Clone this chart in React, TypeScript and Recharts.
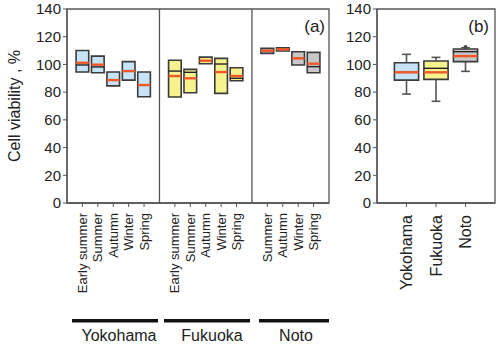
import React from 'react';
import {
  ComposedChart,
  ReferenceArea,
  ReferenceDot,
  ReferenceLine,
  Scatter,
  XAxis,
  YAxis,
} from 'recharts';

const FONT = '"Liberation Sans", Arial, sans-serif';
const AXIS = '#555';
const BOX_EDGE = '#3a3a3a';
const MEAN = '#f0582a';
const BLUE = '#c6e3f7';
const YELLOW = '#f6f28e';
const GRAY = '#c8c8c8';

const valueTicks = [0, 20, 40, 60, 80, 100, 120, 140];

// (a) seasonal sampling at each site
const seasons = ['Early summer', 'Summer', 'Autumn', 'Winter', 'Spring'];
const notoSeasons = ['Summer', 'Autumn', 'Winter', 'Spring'];

const yokohamaQ1 = [94.5, 94.0, 84.5, 88.7, 76.7];
const yokohamaQ3 = [110.0, 106.0, 94.5, 102.0, 94.5];
const yokohamaMedian = [99.6, 98.2, 88.7, 95.2, 85.1];
const yokohamaMean = [101.2, 99.8, 88.7, 95.2, 85.1];

const fukuokaQ1 = [76.5, 79.6, 100.5, 79.1, 88.2];
const fukuokaQ3 = [103.0, 96.4, 105.3, 104.4, 97.6];
const fukuokaMedian = [95.2, 94.3, 102.7, 100.3, 90.0];
const fukuokaMean = [91.6, 90.0, 102.7, 94.5, 91.6];

const notoQ1 = [108.0, 109.7, 99.6, 94.0];
const notoQ3 = [111.6, 112.0, 109.2, 108.7];
const notoMedian = [109.9, 110.9, 104.4, 98.4];
const notoMean = [109.9, 110.9, 104.4, 100.5];

// (b) pooled per site
const sites = ['Yokohama', 'Fukuoka', 'Noto'];
const siteLow = [78.6, 73.4, 95.0];
const siteQ1 = [88.7, 89.2, 102.0];
const siteMedian = [94.3, 97.2, 109.2];
const siteMean = [94.3, 94.3, 106.0];
const siteQ3 = [101.2, 102.5, 111.1];
const siteHigh = [107.3, 105.1, 112.0];
const notoOutliers = [112.6];

const siteFills = [BLUE, YELLOW, GRAY];
const HALF = 0.41;
const CAP = 0.15;

type Box = {
  x: number;
  label: string;
  q1: number;
  q3: number;
  median: number;
  mean: number;
  fill: string;
};

const groups = [
  { start: 1, labels: seasons, q1: yokohamaQ1, q3: yokohamaQ3, median: yokohamaMedian, mean: yokohamaMean, fill: BLUE },
  { start: 7, labels: seasons, q1: fukuokaQ1, q3: fukuokaQ3, median: fukuokaMedian, mean: fukuokaMean, fill: YELLOW },
  { start: 13, labels: notoSeasons, q1: notoQ1, q3: notoQ3, median: notoMedian, mean: notoMean, fill: GRAY },
];

const seasonBoxes: Box[] = groups.flatMap((g) =>
  g.labels.map((label, i) => ({
    x: g.start + i,
    label,
    q1: g.q1[i],
    q3: g.q3[i],
    median: g.median[i],
    mean: g.mean[i],
    fill: g.fill,
  })),
);

const siteBoxes = sites.map((label, i) => ({
  x: i + 1,
  label,
  low: siteLow[i],
  q1: siteQ1[i],
  median: siteMedian[i],
  mean: siteMean[i],
  q3: siteQ3[i],
  high: siteHigh[i],
  fill: siteFills[i],
}));

const seasonLabelAt: Record<number, string> = {};
seasonBoxes.forEach((b) => (seasonLabelAt[b.x] = b.label));
const siteLabelAt: Record<number, string> = {};
siteBoxes.forEach((b) => (siteLabelAt[b.x] = b.label));

const SeasonTick = ({ x, y, payload }: any) => (
  <text
    transform={`translate(${x},${y + 4}) rotate(-90)`}
    textAnchor="end"
    dy="0.35em"
    fontSize={13}
    fill="#222"
  >
    {seasonLabelAt[payload.value]}
  </text>
);

const SiteTick = ({ x, y, payload }: any) => (
  <text
    transform={`translate(${x},${y + 6}) rotate(-90)`}
    textAnchor="end"
    dy="0.35em"
    fontSize={16}
    fill="#222"
  >
    {siteLabelAt[payload.value]}
  </text>
);

const hidden = () => <g />;

function boxMarks(b: { x: number; q1: number; q3: number; median: number; mean: number; fill: string }, key: string) {
  return [
    <ReferenceArea
      key={`${key}-box`}
      x1={b.x - HALF}
      x2={b.x + HALF}
      y1={b.q1}
      y2={b.q3}
      fill={b.fill}
      fillOpacity={1}
      stroke={BOX_EDGE}
      strokeWidth={1.6}
    />,
    <ReferenceLine
      key={`${key}-median`}
      segment={[{ x: b.x - HALF, y: b.median }, { x: b.x + HALF, y: b.median }]}
      stroke="#222"
      strokeWidth={1.4}
    />,
    <ReferenceLine
      key={`${key}-mean`}
      segment={[{ x: b.x - HALF, y: b.mean }, { x: b.x + HALF, y: b.mean }]}
      stroke={MEAN}
      strokeWidth={2.4}
    />,
  ];
}

function whiskerMarks(b: (typeof siteBoxes)[number]) {
  const seg = (k: string, x1: number, y1: number, x2: number, y2: number) => (
    <ReferenceLine
      key={`${b.label}-${k}`}
      segment={[{ x: x1, y: y1 }, { x: x2, y: y2 }]}
      stroke="#555"
      strokeWidth={1.6}
    />
  );
  return [
    seg('up', b.x, b.q3, b.x, b.high),
    seg('down', b.x, b.q1, b.x, b.low),
    seg('capHi', b.x - CAP, b.high, b.x + CAP, b.high),
    seg('capLo', b.x - CAP, b.low, b.x + CAP, b.low),
  ];
}

export default function App() {
  return (
    <div
      style={{
        position: 'absolute',
        left: 0,
        top: 0,
        width: 500,
        height: 346,
        background: '#fff',
        fontFamily: FONT,
      }}
    >
      <div style={{ position: 'absolute', left: 0, top: 0 }}>
        <ComposedChart
          width={340}
          height={346}
          data={seasonBoxes}
          margin={{ top: 9, right: 11, bottom: 0, left: 0 }}
        >
          <XAxis
            type="number"
            dataKey="x"
            domain={[0, 17]}
            ticks={seasonBoxes.map((b) => b.x)}
            interval={0}
            height={143}
            tickSize={4}
            tick={<SeasonTick />}
            axisLine={{ stroke: AXIS, strokeWidth: 1.3 }}
            tickLine={{ stroke: AXIS }}
            allowDataOverflow
          />
          <YAxis
            type="number"
            domain={[0, 140]}
            ticks={valueTicks}
            width={67}
            tickSize={4}
            tick={{ fontSize: 15, fill: '#222' }}
            axisLine={{ stroke: AXIS, strokeWidth: 1.3 }}
            tickLine={{ stroke: AXIS }}
            allowDataOverflow
          />
          <ReferenceArea x1={0} x2={17} y1={0} y2={140} fill="none" stroke={AXIS} strokeWidth={1.3} />
          <ReferenceLine x={6} stroke={AXIS} strokeWidth={1.3} />
          <ReferenceLine x={12} stroke={AXIS} strokeWidth={1.3} />
          {seasonBoxes.flatMap((b) => boxMarks(b, `s${b.x}`))}
          <Scatter dataKey="mean" shape={hidden} isAnimationActive={false} />
        </ComposedChart>
      </div>

      <div style={{ position: 'absolute', left: 300, top: 0 }}>
        <ComposedChart
          width={200}
          height={346}
          data={siteBoxes}
          margin={{ top: 9, right: 5, bottom: 0, left: 0 }}
        >
          <XAxis
            type="number"
            dataKey="x"
            domain={[0, 4]}
            ticks={siteBoxes.map((b) => b.x)}
            interval={0}
            height={143}
            tickSize={4}
            tick={<SiteTick />}
            axisLine={{ stroke: AXIS, strokeWidth: 1.3 }}
            tickLine={{ stroke: AXIS }}
            allowDataOverflow
          />
          <YAxis
            type="number"
            domain={[0, 140]}
            ticks={valueTicks}
            width={77}
            tickSize={4}
            tick={{ fontSize: 15, fill: '#222' }}
            axisLine={{ stroke: AXIS, strokeWidth: 1.3 }}
            tickLine={{ stroke: AXIS }}
            allowDataOverflow
          />
          <ReferenceArea x1={0} x2={4} y1={0} y2={140} fill="none" stroke={AXIS} strokeWidth={1.3} />
          {siteBoxes.flatMap((b) => whiskerMarks(b))}
          {siteBoxes.flatMap((b) => boxMarks(b, b.label))}
          {notoOutliers.map((v, i) => (
            <ReferenceDot key={`out${i}`} x={3} y={v} r={2} fill="#444" stroke="none" />
          ))}
          <Scatter dataKey="mean" shape={hidden} isAnimationActive={false} />
        </ComposedChart>
      </div>

      {/* axis title, site brackets and panel tags */}
      <svg
        width={500}
        height={346}
        style={{ position: 'absolute', left: 0, top: 0, pointerEvents: 'none' }}
        fontFamily={FONT}
      >
        <text
          transform="translate(14,106) rotate(-90)"
          textAnchor="middle"
          dy="0.35em"
          fontSize={16}
          fill="#222"
        >
          Cell viability , %
        </text>
        <rect x={72} y={319} width={86} height={3.5} fill="#111" />
        <rect x={164} y={319} width={86} height={3.5} fill="#111" />
        <rect x={259} y={319} width={70} height={3.5} fill="#111" />
        <text x={119} y={341} textAnchor="middle" fontSize={16} fill="#222">
          Yokohama
        </text>
        <text x={212} y={341} textAnchor="middle" fontSize={16} fill="#222">
          Fukuoka
        </text>
        <text x={296} y={341} textAnchor="middle" fontSize={16} fill="#222">
          Noto
        </text>
        <text x={325} y={32} textAnchor="end" fontSize={17} fill="#222">
          (a)
        </text>
        <text x={489} y={32} textAnchor="end" fontSize={17} fill="#222">
          (b)
        </text>
      </svg>
    </div>
  );
}
